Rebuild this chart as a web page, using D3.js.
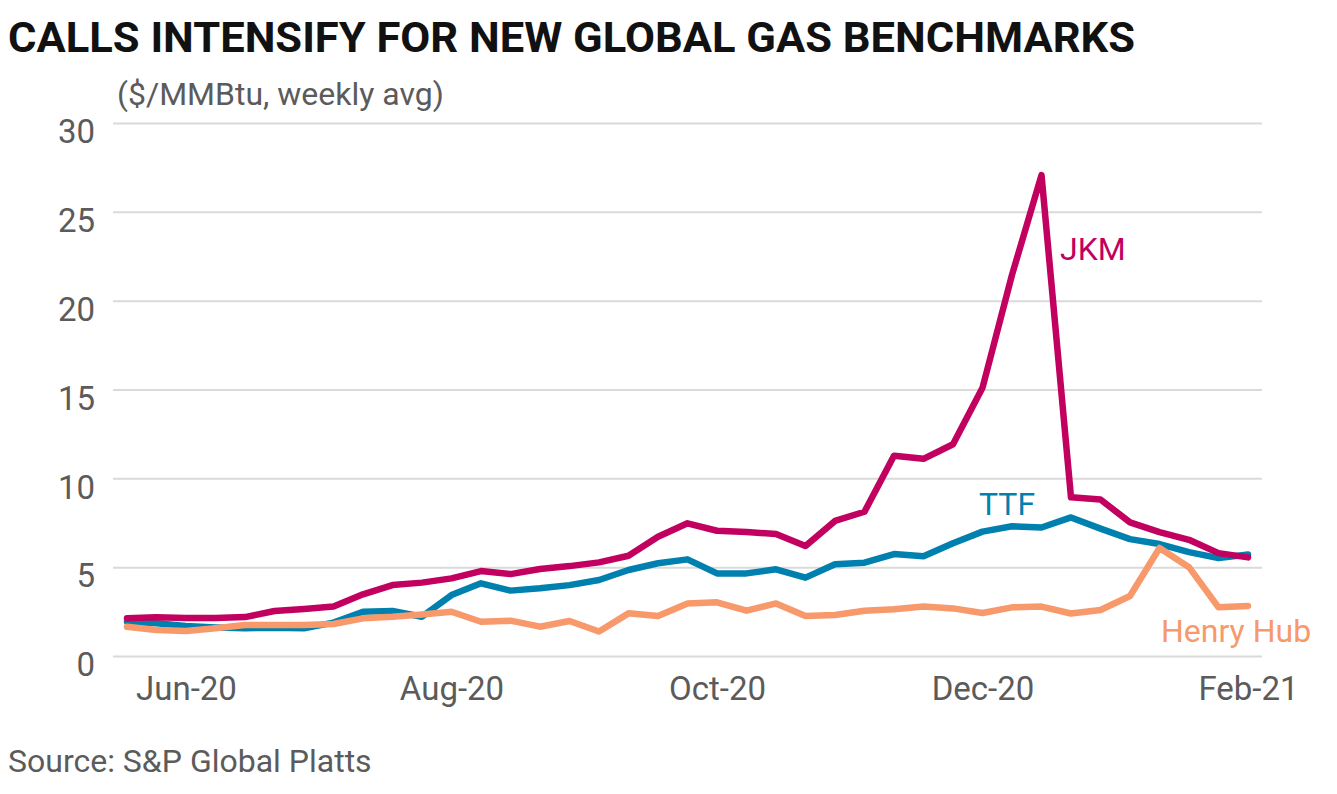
<!DOCTYPE html>
<html>
<head>
<meta charset="utf-8">
<script src="https://cdn.jsdelivr.net/npm/d3@7"></script>
<style>
  body { margin: 0; background: #ffffff; }
  text { font-family: Roboto, "Noto Sans", sans-serif; }
</style>
</head>
<body>
<div id="chart"></div>
<script>
// weekly dates (Fridays)
var weeks = [
  "2020-05-22", "2020-05-29", "2020-06-05", "2020-06-12", "2020-06-19", "2020-06-26",
  "2020-07-03", "2020-07-10", "2020-07-17", "2020-07-24", "2020-07-31", "2020-08-07",
  "2020-08-14", "2020-08-21", "2020-08-28", "2020-09-04", "2020-09-11", "2020-09-18",
  "2020-09-25", "2020-10-02", "2020-10-09", "2020-10-16", "2020-10-23", "2020-10-30",
  "2020-11-06", "2020-11-13", "2020-11-20", "2020-11-27", "2020-12-04", "2020-12-11",
  "2020-12-18", "2020-12-25", "2021-01-01", "2021-01-08", "2021-01-15", "2021-01-22",
  "2021-01-29", "2021-02-05", "2021-02-12"
];

// $/MMBtu, weekly avg
var jkm = [
  2.12, 2.18, 2.14, 2.14, 2.19, 2.53, 2.64, 2.78, 3.47, 3.99,
  4.13, 4.37, 4.78, 4.61, 4.90, 5.06, 5.27, 5.64, 6.71, 7.47,
  7.05, 6.98, 6.87, 6.19, 7.60, 8.12, 11.27, 11.10, 11.92, 15.10,
  21.45, 27.07, 8.93, 8.81, 7.52, 6.97, 6.54, 5.79, 5.55
];
var ttf = [
  1.93, 1.84, 1.69, 1.61, 1.56, 1.59, 1.56, 1.88, 2.49, 2.53,
  2.21, 3.43, 4.09, 3.68, 3.81, 3.99, 4.28, 4.84, 5.22, 5.44,
  4.65, 4.65, 4.88, 4.41, 5.16, 5.25, 5.74, 5.62, 6.35, 7.00,
  7.30, 7.23, 7.80, 7.17, 6.58, 6.30, 5.85, 5.51, 5.71
];
var henryHub = [
  1.65, 1.46, 1.41, 1.56, 1.74, 1.74, 1.74, 1.80, 2.12, 2.21,
  2.34, 2.49, 1.93, 1.99, 1.65, 1.97, 1.38, 2.40, 2.25, 2.96,
  3.02, 2.55, 2.96, 2.25, 2.31, 2.55, 2.63, 2.78, 2.68, 2.42,
  2.74, 2.78, 2.39, 2.59, 3.38, 6.08, 5.00, 2.74, 2.82
];

var tickWeeks = ["2020-06-05", "2020-08-07", "2020-10-09", "2020-12-11", "2021-02-12"];
var tickLabels = ["Jun-20", "Aug-20", "Oct-20", "Dec-20", "Feb-21"];
var yTicks = [0, 5, 10, 15, 20, 25, 30];

var svgWidth = 1337;
var svgHeight = 794;

var svg = d3.select("#chart")
  .append("svg")
  .attr("width", svgWidth)
  .attr("height", svgHeight);

// scales
var xScale = d3.scalePoint()
  .domain(weeks)
  .range([127, 1248]);

var yScale = d3.scaleLinear()
  .domain([0, 30])
  .range([656, 123]);

// gridlines + y labels
var gridLeft = 113;
var gridRight = 1262;

var yAxis = svg.append("g")
  .attr("transform", `translate(${gridLeft},0)`)
  .call(d3.axisLeft(yScale)
    .tickValues(yTicks)
    .tickSize(-(gridRight - gridLeft))
    .tickPadding(18));

yAxis.select(".domain").remove();
yAxis.selectAll("line")
  .attr("stroke", "#dadada")
  .attr("stroke-width", 2);
yAxis.selectAll("text")
  .attr("fill", "#5b5b5b")
  .attr("font-size", "33px")
  .attr("dy", "0.6em");

// x labels
var xAxis = svg.append("g")
  .attr("transform", "translate(0,656)")
  .call(d3.axisBottom(xScale)
    .tickValues(tickWeeks)
    .tickSize(0)
    .tickPadding(21)
    .tickFormat((d, i) => tickLabels[i]));

xAxis.select(".domain").remove();
xAxis.selectAll("text")
  .attr("fill", "#5b5b5b")
  .attr("font-size", "33px");

// lines
var line = d3.line()
  .x((d, i) => xScale(weeks[i]))
  .y(d => yScale(d));

var series = [
  { name: "TTF", values: ttf, color: "#0080ae" },
  { name: "JKM", values: jkm, color: "#c2005f" },
  { name: "Henry Hub", values: henryHub, color: "#f7996b" }
];

svg.selectAll(".series")
  .data(series)
  .enter()
  .append("path")
  .attr("class", "series")
  .attr("d", d => line(d.values))
  .attr("fill", "none")
  .attr("stroke", d => d.color)
  .attr("stroke-width", 6.5)
  .attr("stroke-linejoin", "round")
  .attr("stroke-linecap", "round");

// series labels
svg.append("text")
  .attr("x", 1060)
  .attr("y", 260)
  .attr("font-size", "32px")
  .attr("fill", "#c2005f")
  .text("JKM");

svg.append("text")
  .attr("x", 979)
  .attr("y", 515)
  .attr("font-size", "32px")
  .attr("fill", "#0080ae")
  .text("TTF");

svg.append("text")
  .attr("x", 1161)
  .attr("y", 642)
  .attr("font-size", "32px")
  .attr("fill", "#f7996b")
  .text("Henry Hub");

// title, unit, source
svg.append("text")
  .attr("x", 8)
  .attr("y", 52)
  .attr("font-size", "42px")
  .attr("font-weight", 700)
  .attr("fill", "#111111")
  .attr("textLength", 1127)
  .attr("lengthAdjust", "spacingAndGlyphs")
  .text("CALLS INTENSIFY FOR NEW GLOBAL GAS BENCHMARKS");

svg.append("text")
  .attr("x", 117)
  .attr("y", 105)
  .attr("font-size", "32px")
  .attr("fill", "#5b5b5b")
  .text("($/MMBtu, weekly avg)");

svg.append("text")
  .attr("x", 8)
  .attr("y", 772)
  .attr("font-size", "32px")
  .attr("fill", "#5b5b5b")
  .text("Source: S&P Global Platts");
</script>
</body>
</html>
